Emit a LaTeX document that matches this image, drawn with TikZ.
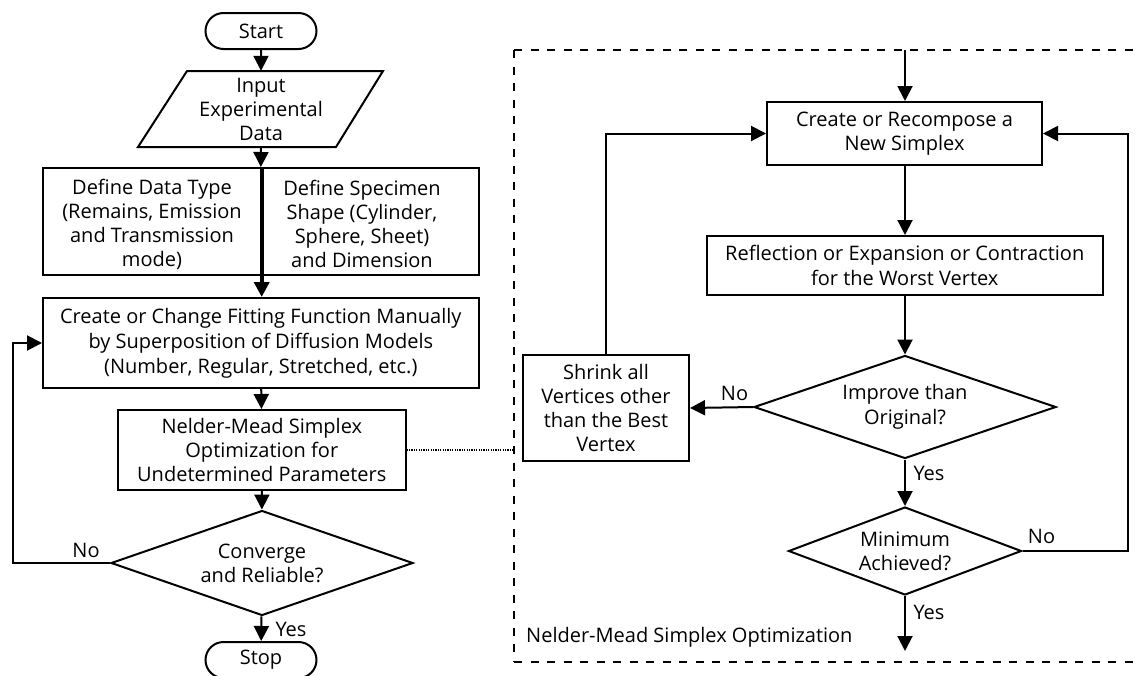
\documentclass[tikz,border=0pt]{standalone}
\usepackage{fontspec}
\setmainfont{Open Sans}
\usetikzlibrary{arrows.meta,shapes.geometric,shapes.misc}
\begin{document}
\begin{tikzpicture}[x=1pt,y=-1pt,
  txt/.style={font=\fontsize{20}{24}\selectfont, align=center, text=black, inner sep=0pt},
  box/.style={draw, rectangle, line width=2pt, inner sep=0pt, txt},
  dia/.style={draw, diamond, line width=2pt, inner sep=0pt, txt},
  term/.style={draw, rounded rectangle, line width=2pt, minimum width=111pt, minimum height=36pt, inner sep=0pt, txt},
  arr/.style={line width=2pt, -{Triangle[length=15pt,width=15pt]}},
  lbl/.style={txt, anchor=center},
  frame/.style={line width=2pt, dash pattern=on 8pt off 8.5pt},
  dots/.style={line width=2pt, dash pattern=on 1.2pt off 1.2pt}
]
\useasboundingbox (0,0) rectangle (1137,675);
\clip (0,0) rectangle (1137,675);

% ---------- left column ----------
\node[term] (start) at (261,31) {Start};
\draw[line width=2pt] (187,71) -- (383,71) -- (336,147) -- (138,147) -- cycle;
\node[txt, minimum width=150pt, minimum height=76pt] (input) at (261,109) {Input\\Experimental\\Data};
\node[box, minimum width=435.6pt, minimum height=107pt] (box1) at (260.8,221.5) {};
\node[txt] (box1l) at (152,224) {Define Data Type\\(Remains, Emission\\and Transmission\\mode)};
\node[txt] (box1r) at (362,224) {Define Specimen\\Shape (Cylinder,\\Sphere, Sheet)\\and Dimension};
\node[box, minimum width=435.6pt, minimum height=90pt, font=\fontsize{20}{25}\selectfont] (create) at (260.8,343) {Create or Change Fitting Function Manually\\by Superposition of Diffusion Models\\(Number, Regular, Stretched, etc.)};
\node[box, minimum width=287.6pt, minimum height=80pt] (nm) at (261.8,450) {Nelder-Mead Simplex\\Optimization for\\Undetermined Parameters};
\node[dia, minimum width=302pt, minimum height=105pt, aspect=2.88] (conv) at (262,563) {Converge\\and Reliable?};
\node[term] (stop) at (261,660) {Stop};

\draw[arr] (start) -- (input);
\draw[arr] (input.south) -- (box1.north);
\draw[line width=3.6pt, -{Triangle[length=15pt,width=15pt]}] (box1.north -| 261.7,0) -- (create.north -| 261.7,0);
\draw[arr] (create) -- (nm);
\draw[arr] (nm) -- (conv);
\draw[arr] (conv) -- (stop);
\draw[arr] (conv.west) -- (12.7,563) |- (create.west);
\node[lbl] (no1) at (86,550) {No};
\node[lbl] (yes1) at (291,629) {Yes};

% ---------- dashed frame ----------
\draw[frame] (514,50) -- (1160,50);
\draw[frame] (514,662) -- (1160,662);
\draw[frame] (514,50) -- (514,662);
\coordinate (dl) at (514,450);
\draw[dots] (nm.east) -- (dl);
\node[txt, anchor=west] (title) at (526,637) {Nelder-Mead Simplex Optimization};

% ---------- right column ----------
\coordinate (topin) at (905,50);
\node[box, minimum width=275pt, minimum height=63pt] (recomp) at (904.5,133.5) {Create or Recompose a\\New Simplex};
\node[box, minimum width=395.5pt, minimum height=59pt, font=\fontsize{20}{25}\selectfont] (refl) at (904.75,265.5) {Reflection or Expansion or Contraction\\for the Worst Vertex};
\node[dia, minimum width=302pt, minimum height=103pt, aspect=2.93, font=\fontsize{20}{25}\selectfont] (impr) at (905,407) {Improve than\\Original?};
\node[box, minimum width=166pt, minimum height=106pt] (shrink) at (606,408) {Shrink all\\Vertices other\\than the Best\\Vertex};
\node[dia, minimum width=233pt, minimum height=88pt, aspect=2.65] (mini) at (905,551) {Minimum\\Achieved?};
\coordinate (outend) at (905,651);

\draw[arr] (topin) -- (recomp.north -| topin);
\draw[arr] (recomp.south -| topin) -- (refl.north -| topin);
\draw[arr] (refl.south -| topin) -- (impr.north);
\draw[arr] (impr.west) -- (shrink.east);
\draw[arr] (impr.south) -- (mini.north);
\draw[arr] (mini.south) -- (outend);
\draw[arr] (shrink.north) |- (recomp.west);
\draw[arr] (mini.east) -- (1128,551) |- (recomp.east);
\node[lbl] (no2) at (734.5,393) {No};
\node[lbl] (yes2) at (929,473) {Yes};
\node[lbl] (no3) at (1041.5,536) {No};
\node[lbl] (yes3) at (929,612) {Yes};
\end{tikzpicture}
\end{document}
